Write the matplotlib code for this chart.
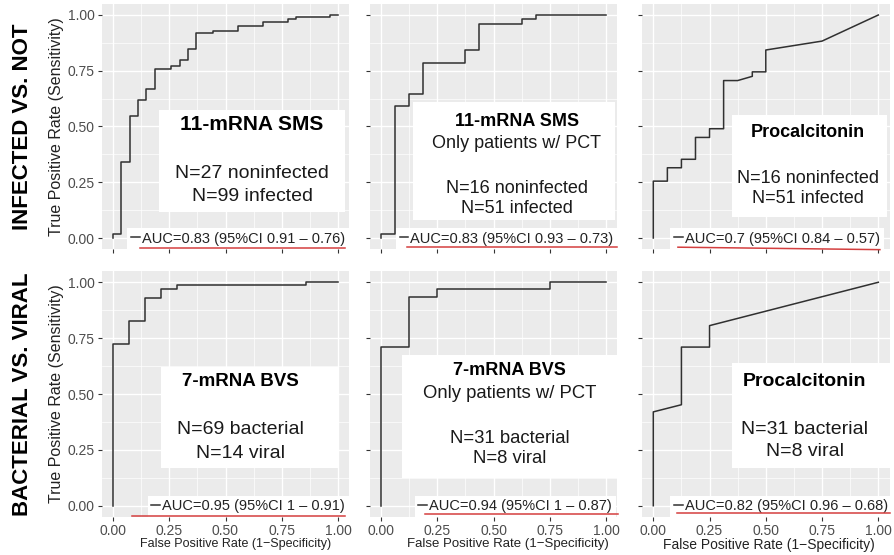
import matplotlib
matplotlib.use("Agg")
import matplotlib.pyplot as plt
from matplotlib.lines import Line2D
from matplotlib.patches import Rectangle

plt.rcParams['font.family'] = ['Liberation Sans', 'DejaVu Sans']

# ---------------- data (ROC curve vertices) ----------------
p1_fpr = [0, 0, 0.037, 0.037, 0.074, 0.074, 0.111, 0.111, 0.148, 0.148, 0.185, 0.185,
          0.259, 0.259, 0.296, 0.296, 0.333, 0.333, 0.370, 0.370, 0.444, 0.444, 0.556,
          0.556, 0.667, 0.667, 0.778, 0.778, 0.815, 0.815, 0.963, 0.963, 1.0]
p1_tpr = [0, 0.02, 0.02, 0.34, 0.34, 0.545, 0.545, 0.62, 0.62, 0.667, 0.667, 0.758,
          0.758, 0.77, 0.77, 0.798, 0.798, 0.848, 0.848, 0.92, 0.92, 0.93, 0.93, 0.95,
          0.95, 0.97, 0.97, 0.98, 0.98, 0.99, 0.99, 1.0, 1.0]

p2_fpr = [0, 0, 0.0625, 0.0625, 0.125, 0.125, 0.1875, 0.1875, 0.375, 0.375, 0.4375,
          0.4375, 0.625, 0.625, 0.6875, 0.6875, 1.0]
p2_tpr = [0, 0.02, 0.02, 0.59, 0.59, 0.647, 0.647, 0.784, 0.784, 0.843, 0.843, 0.96,
          0.96, 0.98, 0.98, 1.0, 1.0]

p3_fpr = [0, 0, 0.0625, 0.0625, 0.125, 0.125, 0.1875, 0.1875, 0.25, 0.25, 0.3125,
          0.3125, 0.375, 0.44, 0.44, 0.5, 0.5, 0.75, 1.0]
p3_tpr = [0, 0.255, 0.255, 0.315, 0.315, 0.353, 0.353, 0.451, 0.451, 0.49, 0.49,
          0.706, 0.706, 0.725, 0.745, 0.745, 0.843, 0.883, 1.0]

p4_fpr = [0, 0, 0.0714, 0.0714, 0.143, 0.143, 0.214, 0.214, 0.286, 0.286, 0.857, 0.857, 1.0]
p4_tpr = [0, 0.725, 0.725, 0.826, 0.826, 0.928, 0.928, 0.971, 0.971, 0.986, 0.986, 1.0, 1.0]

p5_fpr = [0, 0, 0.125, 0.125, 0.25, 0.25, 0.75, 0.75, 1.0]
p5_tpr = [0, 0.71, 0.71, 0.935, 0.935, 0.968, 0.968, 1.0, 1.0]

p6_fpr = [0, 0, 0.125, 0.125, 0.25, 0.25, 1.0]
p6_tpr = [0, 0.42, 0.452, 0.71, 0.71, 0.806, 1.0]

auc_labels = [
    "AUC=0.83 (95%CI 0.91 \u2013 0.76)",
    "AUC=0.83 (95%CI 0.93 \u2013 0.73)",
    "AUC=0.7 (95%CI 0.84 \u2013 0.57)",
    "AUC=0.95 (95%CI 1 \u2013 0.91)",
    "AUC=0.94 (95%CI 1 \u2013 0.87)",
    "AUC=0.82 (95%CI 0.96 \u2013 0.68)",
]
titles = ["11-mRNA SMS", "11-mRNA SMS", "Procalcitonin",
          "7-mRNA BVS", "7-mRNA BVS", "Procalcitonin"]
subtitles = [None, "Only patients w/ PCT", None, None, "Only patients w/ PCT", None]
counts = [
    ["N=27 noninfected", "N=99 infected"],
    ["N=16 noninfected", "N=51 infected"],
    ["N=16 noninfected", "N=51 infected"],
    ["N=69 bacterial", "N=14 viral"],
    ["N=31 bacterial", "N=8 viral"],
    ["N=31 bacterial", "N=8 viral"],
]
row_labels = ["INFECTED VS. NOT", "BACTERIAL VS. VIRAL"]
ticks = [0.0, 0.25, 0.5, 0.75, 1.0]
tick_labels = ["0.00", "0.25", "0.50", "0.75", "1.00"]
minor_ticks = [0.125, 0.375, 0.625, 0.875]

curves = [(p1_fpr, p1_tpr), (p2_fpr, p2_tpr), (p3_fpr, p3_tpr),
          (p4_fpr, p4_tpr), (p5_fpr, p5_tpr), (p6_fpr, p6_tpr)]

# ---------------- layout (positions / styles) ----------------
W, H = 894, 555
col_left = [101.75, 369.75, 642.05]
col_w = 247.5
row_top = [3.85, 271.1]
row_h = [245.3, 245.8]

# white annotation box (data coords x0, x1, y0, y1) and text placement
boxes = [(0.204, 1.031, 0.117, 0.574), (0.142, 1.04, 0.081, 0.611),
         (0.348, 1.037, 0.096, 0.552), (0.213, 1.001, 0.169, 0.622),
         (0.092, 1.05, 0.124, 0.675), (0.348, 1.05, 0.167, 0.637)]
text_x = [0.618, 0.603, 0.688, 0.566, 0.573, 0.674]
title_y = [0.511, 0.522, 0.475, 0.555, 0.603, 0.555]
sub_y = [None, 0.425, None, None, 0.503, None]
count_y = [(0.287, 0.184), (0.223, 0.133), (0.265, 0.175),
           (0.339, 0.235), (0.302, 0.212), (0.339, 0.242)]
title_fs = [15, 13, 13, 13.5, 13, 14]
body_fs = [14, 13, 13, 14, 13.3, 14]
legend_anchor_x = [0.997, 1.0, 0.976, 0.997, 0.993, 1.008]
# red underline (axes coords): x0, x1, y0, y1
underlines = [(0.155, 0.983, 0.006, 0.006), (0.15, 1.0, 0.007, 0.007),
              (0.145, 0.961, 0.008, -0.002), (0.122, 0.983, 0.004, 0.004),
              (0.223, 1.003, 0.010, 0.010), (0.141, 1.0, 0.014, 0.014)]
xlabel_center_px = [236, 508, 769]
xlabel_fs = [9, 9.5, 10]

fig = plt.figure(figsize=(W / 100, H / 100), dpi=100)

curve_color = "#303030"
for i, (fpr, tpr) in enumerate(curves):
    r, c = divmod(i, 3)
    ax = fig.add_axes([col_left[c] / W, 1 - (row_top[r] + row_h[r]) / H,
                       col_w / W, row_h[r] / H])
    ax.set_facecolor("#EBEBEB")
    for s in ax.spines.values():
        s.set_visible(False)
    ax.set_xlim(-0.05, 1.05)
    ax.set_ylim(-0.05, 1.05)
    ax.set_xticks(ticks)
    ax.set_yticks(ticks)
    ax.set_xticks(minor_ticks, minor=True)
    ax.set_yticks(minor_ticks, minor=True)
    ax.set_axisbelow(True)
    ax.grid(which="major", color="white", lw=1.0)
    ax.grid(which="minor", color="white", lw=0.5)
    ax.tick_params(which="minor", length=0)
    ax.tick_params(which="major", length=3, width=0.8, color="#333333",
                   labelcolor="#4D4D4D", labelsize=10, pad=2)
    if c == 0:
        ax.set_yticklabels(tick_labels)
        ax.set_ylabel("True Positive Rate (Sensitivity)", fontsize=11.5,
                      color="#222222", labelpad=3)
    else:
        ax.set_yticklabels([])
    if r == 1:
        ax.set_xticklabels(tick_labels)
        ax.set_xlabel("False Positive Rate (1\u2212Specificity)", fontsize=xlabel_fs[c],
                      color="#222222", labelpad=2)
        ax.xaxis.set_label_coords((xlabel_center_px[c] - col_left[c]) / col_w, -0.085)
    else:
        ax.set_xticklabels([])

    line, = ax.plot(fpr, tpr, color=curve_color, lw=1.1, zorder=2,
                    label=auc_labels[i])

    bx0, bx1, by0, by1 = boxes[i]
    ax.add_patch(Rectangle((bx0, by0), bx1 - bx0, by1 - by0, facecolor="white",
                           edgecolor="none", zorder=3, clip_on=False))
    ax.text(text_x[i], title_y[i], titles[i], ha="center", va="center",
            fontsize=title_fs[i], fontweight="bold", color="black", zorder=4)
    if subtitles[i]:
        ax.text(text_x[i], sub_y[i], subtitles[i], ha="center", va="center",
                fontsize=body_fs[i], color="#1a1a1a", zorder=4)
    for txt, yy in zip(counts[i], count_y[i]):
        ax.text(text_x[i], yy, txt, ha="center", va="center",
                fontsize=body_fs[i], color="#1a1a1a", zorder=4)

    leg = ax.legend(handles=[line], loc="lower right",
                    bbox_to_anchor=(legend_anchor_x[i], 0.0), frameon=True,
                    fancybox=False, framealpha=1, facecolor="white",
                    edgecolor="none", fontsize=10.5, handlelength=0.6,
                    handletextpad=0.15, borderpad=0.25, borderaxespad=0)
    leg.set_zorder(5)
    for t in leg.get_texts():
        t.set_color("#222222")

    ux0, ux1, uy0, uy1 = underlines[i]
    ax.add_line(Line2D([ux0, ux1], [uy0, uy1], transform=ax.transAxes,
                       color="#D43F3F", lw=1.1, zorder=6, clip_on=False))

for r, lab in enumerate(row_labels):
    yc = row_top[r] + row_h[r] / 2
    fig.text(23 / W, 1 - yc / H, lab, rotation=90, ha="center", va="center",
             fontsize=16, fontweight="bold", color="black")

fig.savefig("out.png", dpi=100)
